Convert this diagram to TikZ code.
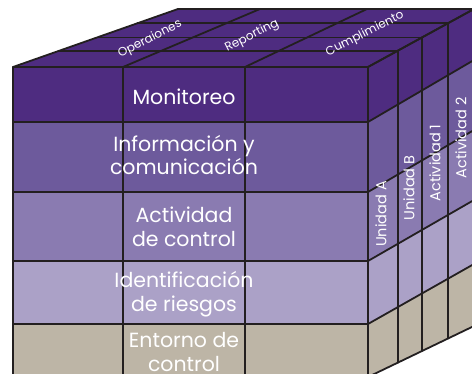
\documentclass[tikz,border=0pt]{standalone}
\usepackage{fontspec}
\setmainfont{Poppins}
\usetikzlibrary{calc}
\definecolor{edge}{HTML}{231F20}
\definecolor{cubedark}{HTML}{4E2C80}
\definecolor{inforow}{HTML}{6D5A9C}
\definecolor{actrow}{HTML}{8A7BB1}
\definecolor{riskrow}{HTML}{ABA1C7}
\definecolor{envrow}{HTML}{BDB5A6}
\begin{document}
\begin{tikzpicture}[x=1pt,y=-1pt,line join=round,line cap=round,
  grid/.style={line width=1.8pt,color=edge},
  rowtext/.style={text=white,font=\fontsize{20.5}{23.5}\selectfont,align=center,inner sep=0pt},
  toptext/.style={text=white,font=\fontsize{12}{14}\selectfont,rotate=27,inner sep=0pt},
  sidetext/.style={text=white,font=\fontsize{14.5}{17}\selectfont,rotate=90,inner sep=0pt}]
\useasboundingbox (0,0) rectangle (472,374);
\clip (0,0) rectangle (472,374);
% corners of the top face
\coordinate (f0) at (13,67);  \coordinate (b0) at (178,9);
\coordinate (f1) at (123,67); \coordinate (b1) at (260,9);
\coordinate (f2) at (245,67); \coordinate (b2) at (367,9);
\coordinate (f3) at (368,67); \coordinate (b3) at (474,9);
% faces
\fill[cubedark] (f0) -- (f3) -- (b3) -- (b0) -- cycle;
\foreach \ya/\yb/\col in {67/122/cubedark,122/192/inforow,192/261/actrow,261/324/riskrow,324/377/envrow}
  \fill[\col] (13,\ya) rectangle (368,\yb);
\foreach \ya/\yb/\za/\zb/\col in {67/122/9/60/cubedark,122/192/60/130/inforow,192/261/130/200/actrow,261/324/200/264/riskrow,324/377/264/326/envrow}
  \fill[\col] (368,\ya) -- (474,\za) -- (474,\zb) -- (368,\yb) -- cycle;
% front grid
\foreach \y in {67,122,192,261,324,377}
  \draw[grid] (13,\y) -- (368,\y);
\foreach \x in {13,123,245,368}
  \draw[grid] (\x,67) -- (\x,377);
% side grid
\foreach \ya/\za in {67/9,122/60,192/130,261/200,324/264,377/326}
  \draw[grid] (368,\ya) -- (474,\za);
\foreach \t in {.28,.51,.755,1}
  \draw[grid] ($(368,67)!\t!(474,9)$) -- ($(368,377)!\t!(474,326)$);
% top grid
\foreach \i in {0,...,3}
  \draw[grid] (f\i) -- (b\i);
\foreach \t in {.28,.51,.755,1}
  \draw[grid] ($(f0)!\t!(b0)$) -- ($(f3)!\t!(b3)$);
% labels
\node[rowtext] (mon) at (184,97) {Monitoreo};
\node[rowtext] (info) at (184,155) {Información y\\comunicación};
\node[rowtext] (act) at (184,227) {Actividad\\de control};
\node[rowtext] (riesgo) at (184,294) {Identificación\\de riesgos};
\node[rowtext] (entorno) at (184,352) {Entorno de\\control};
\node[toptext] (oper) at (150,39) {Operaiones};
\node[toptext] (repo) at (252,36) {Reporting};
\node[toptext] (cumpl) at (365,34) {Cumplimiento};
\node[sidetext] (unia) at (381,214) {Unidad A};
\node[sidetext] (unib) at (409,188) {Unidad B};
\node[sidetext] (act1) at (435,163) {Actividad 1};
\node[sidetext] (act2) at (461,138) {Actividad 2};
\end{tikzpicture}
\end{document}
